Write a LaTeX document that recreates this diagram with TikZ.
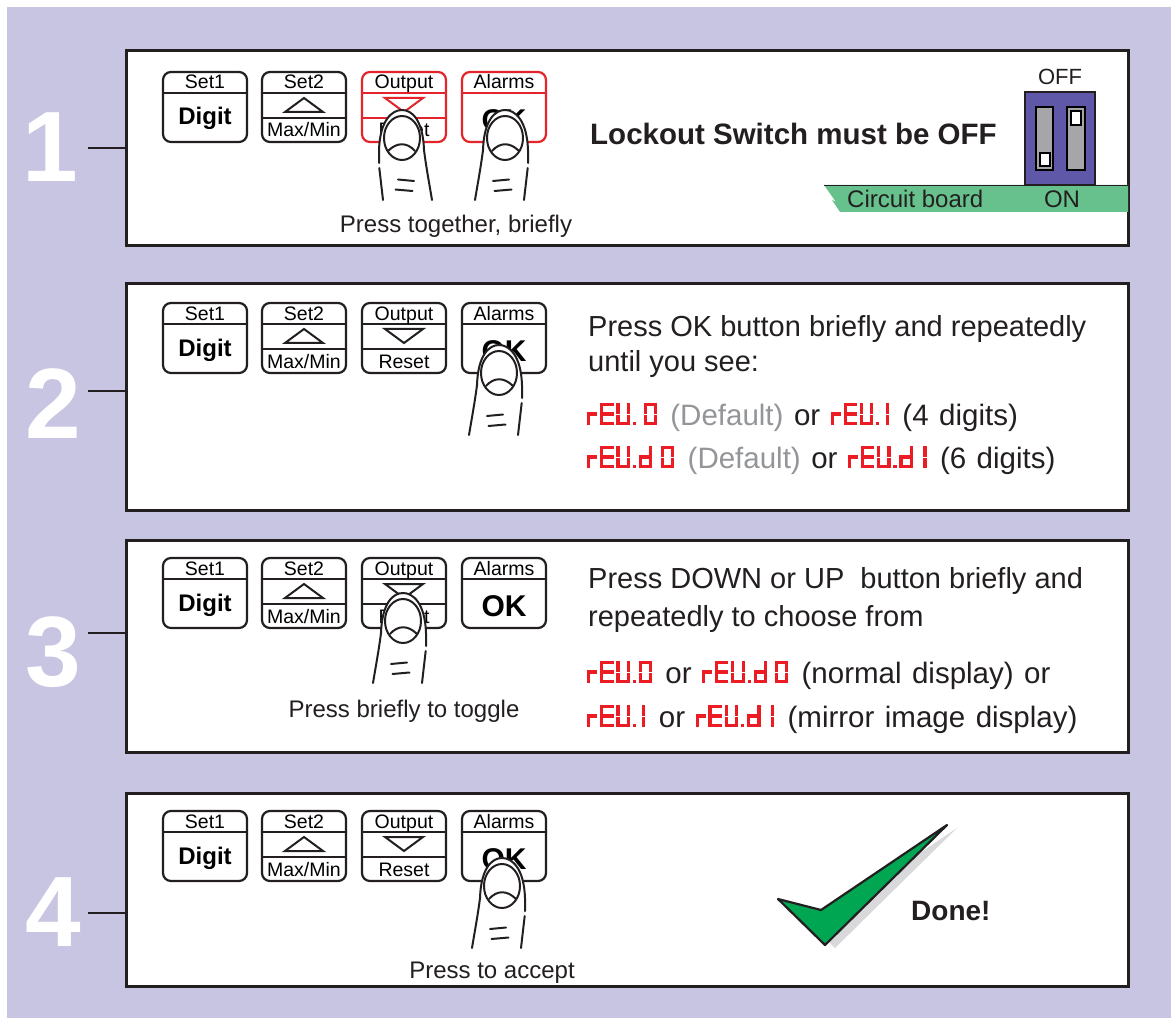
\documentclass[tikz,border=0pt]{standalone}
\usepackage{fontspec}
\setmainfont{Liberation Sans}

\definecolor{lav}{HTML}{C8C5E2}
\definecolor{inkdark}{HTML}{231F20}
\definecolor{keyred}{HTML}{E3242B}
\definecolor{segred}{HTML}{EC1C24}
\definecolor{dipblue}{HTML}{5F57A7}
\definecolor{slotgray}{HTML}{A6A6A8}
\definecolor{boardgreen}{HTML}{66C18C}
\definecolor{tickgreen}{HTML}{00A651}
\definecolor{dropgray}{HTML}{D9D9DB}
\definecolor{softgray}{HTML}{939598}

\newcommand\fsz[1]{\fontsize{#1}{#1}\selectfont}

% seven-segment glyphs: cell 13.5pt x 22pt, bars 3.2pt thick
\newcommand\sgbar[4]{\makebox[0pt][l]{\hspace*{#1pt}\raisebox{#2pt}{\rule{#3pt}{#4pt}}}}
\newcommand\segA{\sgbar{0}{18.8}{13.5}{3.2}}
\newcommand\segB{\sgbar{10.3}{11.5}{3.2}{10.5}}
\newcommand\segC{\sgbar{10.3}{0}{3.2}{10.5}}
\newcommand\segD{\sgbar{0}{0}{13.5}{3.2}}
\newcommand\segE{\sgbar{0}{0}{3.2}{10.5}}
\newcommand\segF{\sgbar{0}{11.5}{3.2}{10.5}}
\newcommand\segG{\sgbar{0}{9.4}{13.5}{3.2}}
\newcommand\segcell[2]{\mbox{#2\hspace*{#1pt}}\hspace*{2.8pt}}
\newcommand\svR{\segcell{10}{\segE\sgbar{0}{9.4}{10}{3.2}}}
\newcommand\svE{\segcell{13.5}{\segA\segD\segE\segF\segG}}
\newcommand\svU{\segcell{13.5}{\segB\segC\segD\segE\segF}}
\newcommand\svD{\segcell{13.5}{\segB\segC\segD\segE\segG}}
\newcommand\svZero{\segcell{13.5}{\segA\segB\segC\segD\segE\segF}}
\newcommand\svOne{\segcell{7}{\sgbar{3.6}{11.5}{3.2}{10.5}\sgbar{3.6}{0}{3.2}{10.5}}}
\newcommand\svDot{\segcell{3.2}{\sgbar{0}{0}{3.2}{3.2}}}
% wider word spacing for the display-code lines
\newcommand\codeline{\fsz{29.5}\spaceskip=10.5pt\relax}

% one row of the four front-panel keys; #1 name prefix, #2/#3 top-left, #4 outline of keys 3 and 4
\newcommand\keyrow[4]{%
  \begin{scope}[shift={(#2,#3)}]
    \draw[key] (0,0) rectangle (84,70);
    \draw[key] (0,21) -- (84,21);
    \node[keylbl] (#1set1) at (42,17) {Set1};
    \node[keybold] (#1digit) at (42,53) {Digit};
    \draw[key] (99,0) rectangle (183,70);
    \draw[key] (99,21) -- (183,21) (99,46) -- (183,46);
    \draw[arrowtri] (122,40) -- (141,26) -- (160,40) -- cycle;
    \node[keylbl] (#1set2) at (141,17) {Set2};
    \node[keylbl] (#1max) at (141,65) {Max/Min};
    \draw[key,draw=#4] (199,0) rectangle (283,70);
    \draw[key,draw=#4] (199,21) -- (283,21) (199,46) -- (283,46);
    \draw[arrowtri,draw=#4] (222,26) -- (260,26) -- (241,40) -- cycle;
    \node[keylbl] (#1out) at (241,17) {Output};
    \node[keylbl] (#1reset) at (241,65) {Reset};
    \draw[key,draw=#4] (299,0) rectangle (383,70);
    \draw[key,draw=#4] (299,21) -- (383,21);
    \node[keylbl] (#1alarm) at (341,17) {Alarms};
    \node[keyok] (#1ok) at (341,58.5) {OK};
  \end{scope}}

\tikzset{
  panel/.style={draw=inkdark, line width=3pt, fill=white, inner sep=0pt, outer sep=0pt, anchor=north west},
  tickline/.style={draw=inkdark, line width=2pt},
  stepnum/.style={text=white, font=\fsz{100}\bfseries, inner sep=0pt},
  key/.style={draw=inkdark, line width=2.2pt, rounded corners=8pt},
  arrowtri/.style={draw=inkdark, line width=2pt, line join=miter},
  keylbl/.style={font=\fsz{19.5}, inner sep=0pt, anchor=base},
  keybold/.style={font=\fsz{24}\bfseries, inner sep=0pt, anchor=base},
  keyok/.style={font=\fsz{30}\bfseries, inner sep=0pt, anchor=base},
  fingerline/.style={draw=inkdark, line width=2pt, line cap=round, line join=round},
  body/.style={font=\fsz{29}, inner sep=0pt, anchor=base west, text=inkdark},
  codebody/.style={font=\codeline, inner sep=0pt, anchor=base west, text=inkdark},
  note/.style={font=\fsz{24}, inner sep=0pt, anchor=base, text=inkdark},
  pics/finger/.style={code={
    \fill[white] (-30,90) .. controls (-27,72) and (-24,56) .. (-22,40)
        .. controls (-21,10) and (-10,0) .. (0,0)
        .. controls (10,0) and (22,10) .. (23,40) -- (19,90) -- cycle;
    \draw[fingerline] (-30,90) .. controls (-27,72) and (-24,56) .. (-22,40)
        .. controls (-21,10) and (-10,0) .. (0,0)
        .. controls (10,0) and (22,10) .. (23,40) -- (23,53);
    \draw[fingerline] (22.7,58) -- (19,90);
    \draw[fingerline] (0,28) ellipse [x radius=18, y radius=22];
    \draw[fingerline] (-13,41) .. controls (-5,32) and (5,32) .. (14,41);
    \draw[fingerline] (-12,71) -- (4,69.5);
    \draw[fingerline] (-10.5,81) -- (6.5,79.5);
  }}
}

\begin{document}
\begin{tikzpicture}[x=1pt,y=-1pt]
\useasboundingbox (0,0) rectangle (1171,1019);
\fill[white] (0,0) rectangle (1171,1019);
\fill[lav] (7,7) rectangle (1171,1018);

% the four step panels
\node[panel, minimum width=1002pt, minimum height=195pt] (p1) at (126,51) {};
\node[panel, minimum width=1002pt, minimum height=226pt] (p2) at (126,284) {};
\node[panel, minimum width=1002pt, minimum height=212pt] (p3) at (126,540) {};
\node[panel, minimum width=1002pt, minimum height=193pt] (p4) at (126,793) {};

% step numbers and their leader ticks
\node[stepnum] (n1) at (50,147) {1};
\node[stepnum] (n2) at (53,404) {2};
\node[stepnum] (n3) at (53,652) {3};
\node[stepnum] (n4) at (53,912) {4};
\coordinate (t1) at (88,148);
\coordinate (t2) at (88,391);
\coordinate (t3) at (88,633);
\coordinate (t4) at (88,913);
\draw[tickline] (t1) -- (t1 -| p1.west);
\draw[tickline] (t2) -- (t2 -| p2.west);
\draw[tickline] (t3) -- (t3 -| p3.west);
\draw[tickline] (t4) -- (t4 -| p4.west);

% ---------- step 1 ----------
\keyrow{a}{163}{72}{keyred}
\pic[xscale=-1] (fa1) at (402,110) {finger};
\pic (fa2) at (505,110) {finger};
\node[note] (a-note) at (456,233) {Press together, briefly};
\node[font=\fsz{29.5}\bfseries, inner sep=0pt, anchor=base west, text=inkdark] (a-lock) at (590,145) {Lockout Switch must be OFF};

% circuit board strip with the lockout DIP switch
\fill[boardgreen] (824,185) -- (1128,185) -- (1128,212) -- (840,212) -- (832,200) -- (836,202) -- cycle;
\draw[inkdark, line width=0.8pt] (824,185) -- (1128,185);
\node[font=\fsz{24}, inner sep=0pt, anchor=base west, text=inkdark] (a-board) at (847,208) {Circuit board};
\node[font=\fsz{24}, inner sep=0pt, anchor=base, text=inkdark] (a-on) at (1062,208) {ON};
\node[font=\fsz{22}, inner sep=0pt, anchor=base, text=inkdark] (a-off) at (1060,85) {OFF};
\draw[fill=dipblue, draw=inkdark, line width=2pt] (1025,92) rectangle (1095,185);
\draw[fill=slotgray, draw=black, line width=1.8pt] (1036,107) rectangle (1053,170);
\draw[fill=slotgray, draw=black, line width=1.8pt] (1067,107) rectangle (1085,170);
\draw[fill=white, draw=black, line width=1.6pt] (1040,153) rectangle (1050,166);
\draw[fill=white, draw=black, line width=1.6pt] (1071,111) rectangle (1081,125);

% ---------- step 2 ----------
\keyrow{b}{163}{303}{inkdark}
\pic (fb) at (499,345) {finger};
\node[body] (b-l1) at (588,337) {Press OK button briefly and repeatedly};
\node[body] (b-l2) at (588,371) {until you see:};
\node[codebody] (b-l3) at (587,425) {{\color{segred}\svR\svE\svU\svDot\hspace*{5pt}\svZero} {\color{softgray}(Default)} or {\color{segred}\svR\svE\svU\svDot\svOne} (4 digits)};
\node[codebody] (b-l4) at (587,468) {{\color{segred}\svR\svE\svU\svDot\svD\hspace*{6pt}\svZero} {\color{softgray}(Default)} or {\color{segred}\svR\svE\svU\svDot\svD\hspace*{4pt}\svOne} (6 digits)};

% ---------- step 3 ----------
\keyrow{c}{163}{558}{inkdark}
\pic (fc) at (403,593) {finger};
\node[note] (c-note) at (404,717) {Press briefly to toggle};
\node[body] (c-l1) at (588,588) {Press DOWN or UP\ \ button briefly and};
\node[body] (c-l2) at (588,626) {repeatedly to choose from};
\node[codebody] (c-l3) at (587,683) {{\color{segred}\svR\svE\svU\svDot\svZero} or {\color{segred}\svR\svE\svU\svDot\svD\hspace*{5pt}\svZero} (normal display) or};
\node[codebody] (c-l4) at (587,727) {{\color{segred}\svR\svE\svU\svDot\svOne} or {\color{segred}\svR\svE\svU\svDot\svD\hspace*{4pt}\svOne} (mirror image display)};

% ---------- step 4 ----------
\keyrow{d}{163}{811}{inkdark}
\pic (fd) at (502,858) {finger};
\node[note] (d-note) at (492,978) {Press to accept};
\fill[dropgray, shift={(10,3)}] (778,899) -- (821,910) -- (947,825) -- (825,945) -- cycle;
\filldraw[fill=tickgreen, draw=inkdark, line width=2.2pt, line join=round] (778,899) -- (821,910) -- (947,825) -- (825,945) -- cycle;
\node[font=\fsz{28}\bfseries, inner sep=0pt, anchor=base west, text=inkdark] (d-done) at (911,920) {Done!};
\end{tikzpicture}
\end{document}
